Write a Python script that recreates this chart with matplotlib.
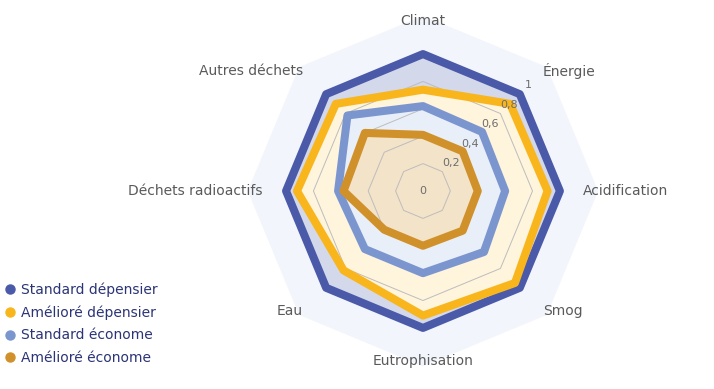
import numpy as np
import matplotlib.pyplot as plt
from matplotlib.lines import Line2D

categories = ["Climat", "Énergie", "Acidification", "Smog", "Eutrophisation",
              "Eau", "Déchets radioactifs", "Autres déchets"]
series_names = ["Standard dépensier", "Amélioré dépensier",
                "Standard économe", "Amélioré économe"]
std_dep = [1, 1, 1, 1, 1, 1, 1, 1]
ame_dep = [0.74, 0.9, 0.91, 0.95, 0.91, 0.82, 0.92, 0.9]
std_eco = [0.62, 0.61, 0.6, 0.63, 0.6, 0.6, 0.62, 0.78]
ame_eco = [0.41, 0.41, 0.4, 0.41, 0.4, 0.4, 0.58, 0.6]
ticks = [0, 0.2, 0.4, 0.6, 0.8, 1]
tick_labels = ["0", "0,2", "0,4", "0,6", "0,8", "1"]

line_colors = ["#4a5aa8", "#f9b51c", "#7b96cf", "#d0912b"]
fill_colors = ["#d3d8ea", "#fff4dc", "#e9eff9", "#f3e3c9"]

n = len(categories)
ang = np.linspace(0, 2 * np.pi, n, endpoint=False)

fig = plt.figure(figsize=(7.14, 3.89), dpi=100)
ax = fig.add_axes([0.3431, 0.0514, 0.4986, 0.9152], projection="polar")
ax.set_theta_zero_location("N")
ax.set_theta_direction(-1)
ax.set_ylim(0, 1.3)
ax.grid(False)
ax.spines["polar"].set_visible(False)
ax.set_xticks([])
ax.set_yticks([])
ax.patch.set_alpha(0)

# background pane
ax.fill(ang, [1.28] * n, color="#f2f5fb", lw=0, zorder=0)

data = [std_dep, ame_dep, std_eco, ame_eco]
for vals, fc in zip(data, fill_colors):
    ax.fill(ang, vals, color=fc, lw=0, zorder=1)

for t in ticks[1:]:
    ax.fill(ang, [t] * n, facecolor="none", edgecolor="#bdbdbd", lw=0.7, zorder=2)

for vals, lc in zip(data, line_colors):
    ax.fill(ang, vals, facecolor="none", edgecolor=lc, lw=5.8,
            joinstyle="round", zorder=3)

for t, lab in zip(ticks, tick_labels):
    r = t + 0.09 if t > 0 else 0
    ax.text(np.pi / 4, r, lab, ha="center", va="center", fontsize=8,
            color="#6d6d6d", zorder=4)

for a, lab in zip(ang, categories):
    s = np.sin(a)
    if abs(s) < 0.01:
        ha = "center"
        r = 1.24
    else:
        ha = "left" if s > 0 else "right"
        r = 1.24 if abs(np.cos(a)) > 0.01 else 1.17
    ax.text(a, r, lab, ha=ha, va="center", fontsize=10, color="#5a5a5a", zorder=4)

handles = [Line2D([], [], marker="o", ls="none", markersize=6.5, color=c) for c in line_colors]
leg = fig.legend(handles, series_names, loc="lower left", bbox_to_anchor=(-0.015, 0.03),
                 frameon=False, fontsize=10, handletextpad=0.15, labelspacing=0.6,
                 handlelength=1.2)
for txt in leg.get_texts():
    txt.set_color("#2b3476")

fig.savefig("out.png", dpi=100)
